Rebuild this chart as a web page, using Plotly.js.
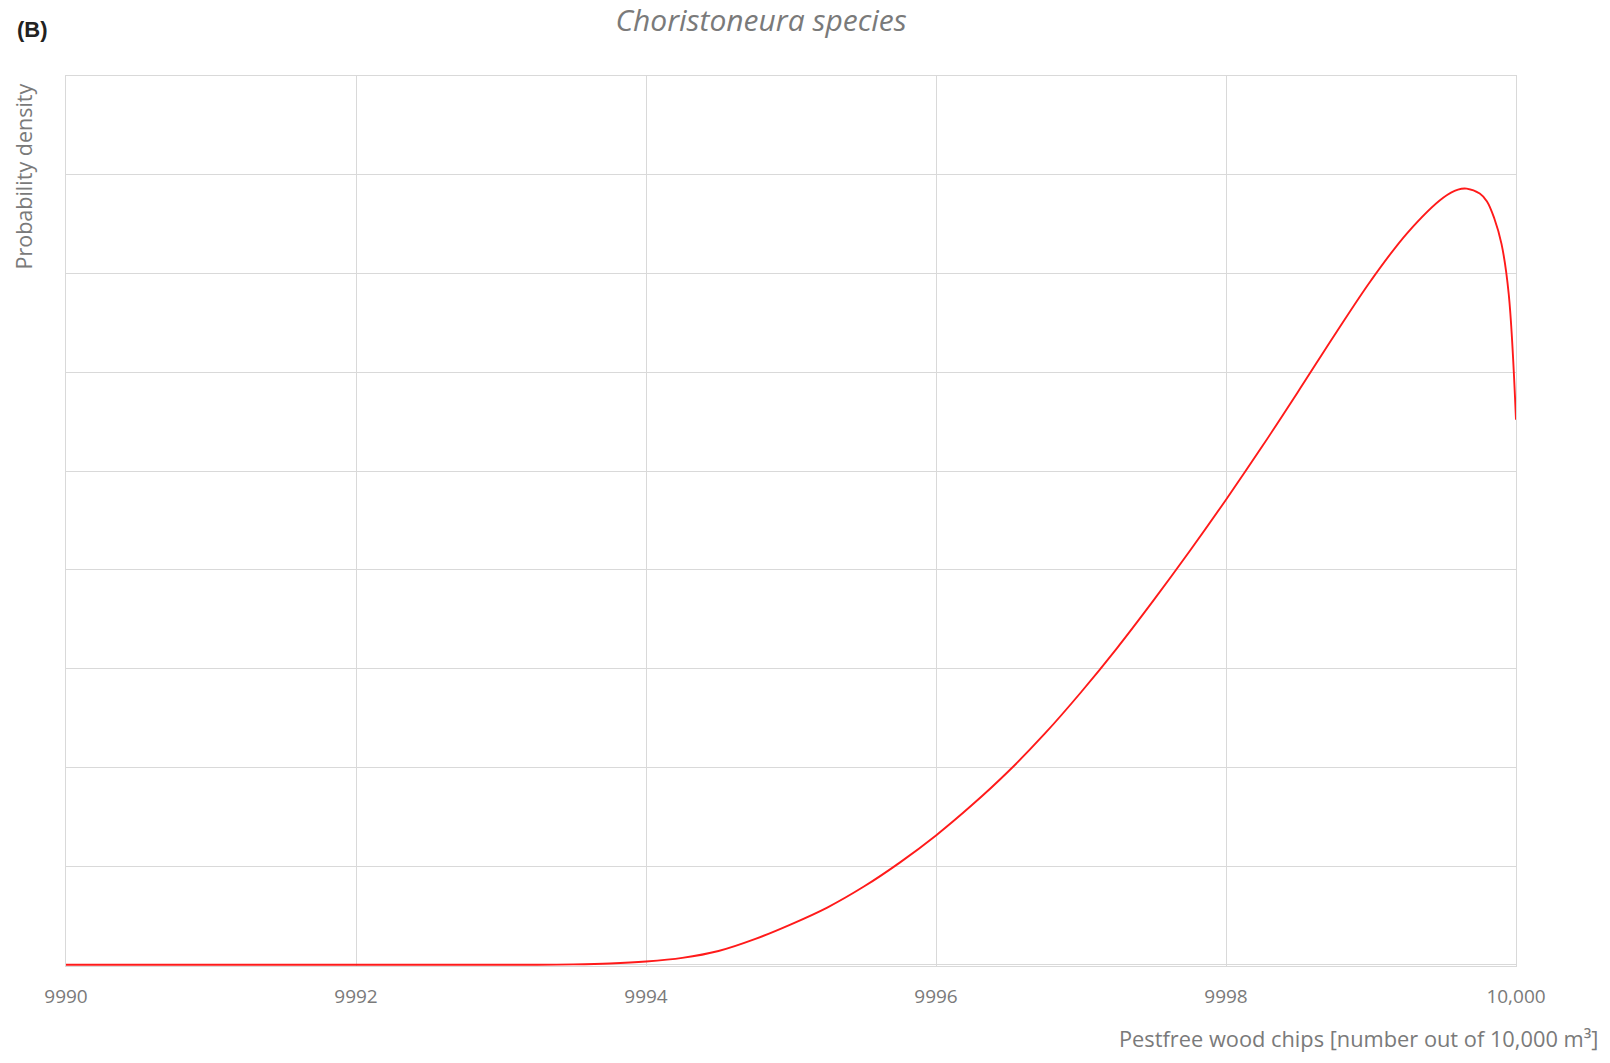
<!DOCTYPE html>
<html>
<head>
<meta charset="utf-8">
<script src="https://cdn.plot.ly/plotly-3.0.1.min.js"></script>
<style>html,body{margin:0;padding:0;background:#fff;}#chart{width:1610px;height:1063px;}</style>
</head>
<body>
<div id="chart"></div>
<script>
// Pestfree wood chips (number out of 10,000 m3)
const chips = [9990, 9991, 9992, 9992.5, 9993.0, 9993.25, 9993.5, 9993.75, 9994.0, 9994.25, 9994.5, 9994.75, 9995.0, 9995.25, 9995.5, 9995.75, 9996.0, 9996.25, 9996.5, 9996.75, 9997.0, 9997.25, 9997.5, 9997.75, 9998.0, 9998.25, 9998.5, 9998.75, 9999.0, 9999.25, 9999.5, 9999.6, 9999.66, 9999.75, 9999.8, 9999.85, 9999.9, 9999.95, 10000];
// Probability density (arbitrary units, read in gridline steps)
const density = [0, 0, 0, 0, 0, 0.001, 0.004, 0.013, 0.033, 0.07, 0.14, 0.26, 0.41, 0.58, 0.79, 1.035, 1.31, 1.62, 1.96, 2.34, 2.76, 3.21, 3.69, 4.19, 4.71, 5.25, 5.81, 6.38, 6.93, 7.41, 7.77, 7.85, 7.86, 7.81, 7.73, 7.56, 7.30, 6.79, 5.52];
const xTickVals = [9990, 9992, 9994, 9996, 9998, 10000];
const xTickText = ['9990', '9992', '9994', '9996', '9998', '10,000'];

const gray = '#7a7a7a';
const grid = '#d9d9d9';
const font = 'Open Sans, Liberation Sans, sans-serif';

const trace = {
  x: chips, y: density, type: 'scatter', mode: 'lines',
  line: {color: '#ff1a1a', width: 1.9, shape: 'spline', smoothing: 1},
  hoverinfo: 'skip', showlegend: false
};

const layout = {
  width: 1610, height: 1063,
  margin: {l: 66, r: 94, t: 76, b: 97, pad: 0},
  paper_bgcolor: '#fff', plot_bgcolor: '#fff',
  font: {family: font, color: gray},
  title: {text: '<i>Choristoneura species</i>', font: {family: font, size: 30, color: gray},
          x: 0.4727, xanchor: 'center', xref: 'container', y: 0.9807, yanchor: 'middle', yref: 'container'},
  xaxis: {range: [9990, 10000], tickvals: xTickVals, ticktext: xTickText,
          showgrid: true, gridcolor: grid, gridwidth: 1, zeroline: false,
          showline: true, linecolor: grid, linewidth: 1, mirror: true,
          ticks: '', ticklabelstandoff: 13, tickfont: {family: font, size: 19, color: gray}},
  yaxis: {range: [-0.012, 9], dtick: 1, tick0: 0, showticklabels: false,
          showgrid: true, gridcolor: grid, gridwidth: 1, zeroline: false,
          showline: true, linecolor: grid, linewidth: 1, mirror: true, ticks: ''},
  annotations: [
    {text: '<b>(B)</b>', xref: 'paper', yref: 'paper', x: -0.035, y: 1.0528, xanchor: 'left', yanchor: 'middle',
     showarrow: false, font: {family: 'Liberation Sans, Arial, sans-serif', size: 22, color: '#222'}},
    {text: 'Probability density', xref: 'paper', yref: 'paper', x: -0.0293, y: 0.9933, xanchor: 'center', yanchor: 'top',
     textangle: -90, showarrow: false, font: {family: font, size: 21.5, color: gray}},
    {text: 'Pestfree wood chips [number out of 10,000 m³]', xref: 'paper', yref: 'paper', x: 1.058, y: -0.082,
     xanchor: 'right', yanchor: 'middle', showarrow: false, font: {family: font, size: 21.8, color: gray}}
  ]
};

Plotly.newPlot('chart', [trace], layout, {displayModeBar: false, staticPlot: true});
</script>
</body>
</html>
